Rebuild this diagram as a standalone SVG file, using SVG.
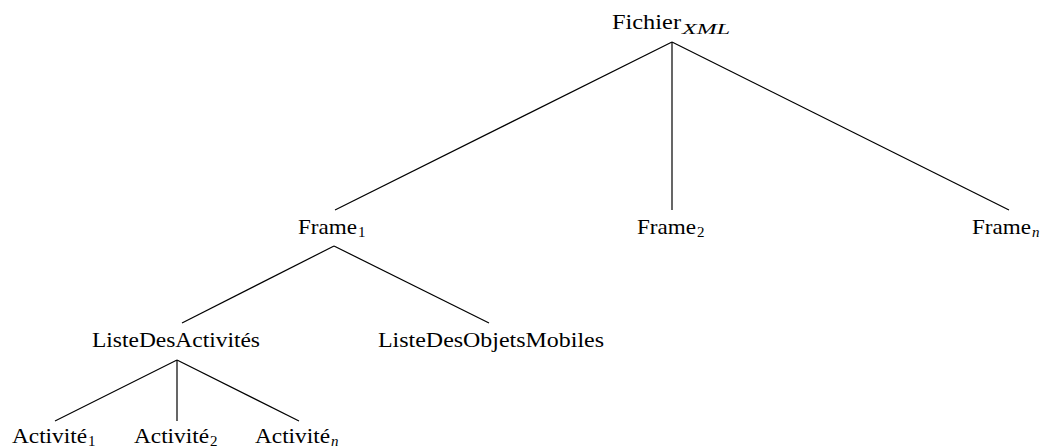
<svg xmlns="http://www.w3.org/2000/svg" width="1048" height="448" viewBox="0 0 1048 448">
<style>
.t{font-family:"Liberation Serif","DejaVu Serif",serif;font-size:22px;fill:#000}
.s{font-family:"Liberation Serif","DejaVu Serif",serif;font-size:15px;fill:#000}
.i{font-style:italic}
.e{stroke:#000;stroke-width:1.2;fill:none}
</style>
<rect width="1048" height="448" fill="#fff"/>
<g id="connectors">
<line class="e" x1="672" y1="42" x2="335" y2="210"/>
<line class="e" x1="672" y1="42" x2="672" y2="210"/>
<line class="e" x1="672" y1="42" x2="1009" y2="210"/>
<line class="e" x1="334" y1="246" x2="182" y2="323"/>
<line class="e" x1="334" y1="246" x2="489" y2="323"/>
<line class="e" x1="177" y1="360" x2="55" y2="421"/>
<line class="e" x1="177" y1="360" x2="177" y2="421"/>
<line class="e" x1="177" y1="360" x2="299" y2="421"/>
</g>
<g id="fichier">
<text class="t" x="612" y="29" textLength="69" lengthAdjust="spacingAndGlyphs">Fichier</text>
<text class="s i" x="682" y="34" textLength="48" lengthAdjust="spacingAndGlyphs">XML</text>
</g>
<g id="frame1">
<text class="t" x="298" y="234" textLength="59" lengthAdjust="spacingAndGlyphs">Frame</text>
<text class="s" x="358" y="237">1</text>
</g>
<g id="frame2">
<text class="t" x="637" y="234" textLength="59" lengthAdjust="spacingAndGlyphs">Frame</text>
<text class="s" x="697" y="237">2</text>
</g>
<g id="framen">
<text class="t" x="972" y="234" textLength="59" lengthAdjust="spacingAndGlyphs">Frame</text>
<text class="s i" x="1032" y="237">n</text>
</g>
<g id="listeActivites">
<text class="t" x="92" y="347" textLength="168" lengthAdjust="spacingAndGlyphs">ListeDesActivités</text>
</g>
<g id="listeObjets">
<text class="t" x="378" y="347" textLength="226" lengthAdjust="spacingAndGlyphs">ListeDesObjetsMobiles</text>
</g>
<g id="activite1">
<text class="t" x="12" y="443" textLength="75" lengthAdjust="spacingAndGlyphs">Activité</text>
<text class="s" x="88" y="446">1</text>
</g>
<g id="activite2">
<text class="t" x="134" y="443" textLength="75" lengthAdjust="spacingAndGlyphs">Activité</text>
<text class="s" x="210" y="446">2</text>
</g>
<g id="activiten">
<text class="t" x="255" y="443" textLength="75" lengthAdjust="spacingAndGlyphs">Activité</text>
<text class="s i" x="331" y="446">n</text>
</g>
</svg>
